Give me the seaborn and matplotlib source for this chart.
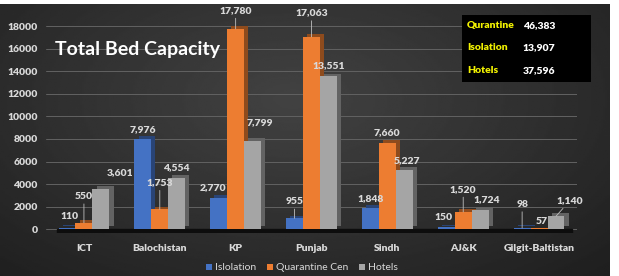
import numpy as np
import pandas as pd
import matplotlib
matplotlib.use("Agg")
import matplotlib.pyplot as plt
import matplotlib.patheffects as pe
from matplotlib.patches import Patch
import seaborn as sns

# ---------------- data ----------------
regions = ["ICT", "Balochistan", "KP", "Punjab", "Sindh", "AJ&K", "Gilgit-Baltistan"]
series = ["Islolation", "Quarantine Cen", "Hotels"]
isolation = [110, 7976, 2770, 955, 1848, 150, 98]
quarantine = [550, 1753, 17780, 17063, 7660, 1520, 57]
hotels = [3601, 4554, 7799, 13551, 5227, 1724, 1140]
yticks = [0, 2000, 4000, 6000, 8000, 10000, 12000, 14000, 16000, 18000]
summary_labels = ["Qurantine", "Isolation", "Hotels"]
summary_values = ["46,383", "13,907", "37,596"]
title = "Total Bed Capacity"

colors = ["#4472C4", "#ED7D31", "#A5A5A5"]
values = [isolation, quarantine, hotels]

# label offsets (points) and whether a leader line is drawn
label_off = [
    [(2, 5), (0, 4), (-4, 4), (0, 9), (0, 4), (-2, 4), (0, 14)],
    [(0, 16), (0, 16), (0, 10), (0, 14), (0, 4), (0, 13), (2, 2)],
    [(14, 8), (0, 4), (5, 10), (0, 5), (2, 4), (5, 4), (10, 8)],
]
leader = [
    [False, False, False, True, False, False, True],
    [True, True, True, True, False, True, False],
    [False, False, False, False, False, False, True],
]

df = pd.DataFrame({
    "region": np.repeat(regions, len(series)),
    "series": series * len(regions),
    "value": np.ravel(np.column_stack(values)),
})

sns.set_theme(style="white")
plt.rcParams["font.family"] = ["Lato", "DejaVu Sans"]
BOLD = "heavy"

W, H = 619, 276
fig = plt.figure(figsize=(W / 100, H / 100), dpi=100, facecolor="white")

# background gradient panel
bg = fig.add_axes([0, 0, 610 / W, 272 / H], zorder=0)
yy, xx = np.mgrid[0:1:200j, 0:1:300j]
r = np.sqrt(((xx - 0.48) / 0.75) ** 2 + ((yy - 0.35) / 0.9) ** 2)
grad = np.clip(0.26 - 0.14 * r, 0.11, 0.26)
bg.imshow(grad, cmap="gray", vmin=0, vmax=1, aspect="auto", extent=[0, 1, 0, 1], origin="upper")
bg.set_axis_off()

ax = fig.add_axes([46 / W, (H - 233) / H, 531 / W, 228 / H], zorder=1)
ax.patch.set_alpha(0)

sns.barplot(data=df, x="region", y="value", hue="series", palette=colors,
            width=0.67, ax=ax, legend=False, saturation=1, zorder=3)

ax.set_ylim(-350, 19900)
ax.set_xlim(-0.5, 6.5)
ax.axhspan(-350, 0, xmin=0.02, xmax=0.99, color="#0d0d0d", zorder=2)
ax.set_yticks(yticks)
ax.set_yticklabels([str(t) for t in yticks], fontweight=BOLD)
ax.set_xticks(range(len(regions)))
ax.set_xticklabels(regions, fontweight=BOLD)
for t in yticks:
    ax.axhline(t, color="#626262", lw=0.7, zorder=1)
ax.tick_params(axis="both", length=0, colors="#d9d9d9", labelsize=7.5)
ax.tick_params(axis="x", pad=8)
ax.tick_params(axis="y", pad=6)
ax.set_xlabel("")
ax.set_ylabel("")
for s in ax.spines.values():
    s.set_visible(False)

for si, cont in enumerate(ax.containers):
    for bi, bar in enumerate(cont):
        bar.set_path_effects([pe.SimplePatchShadow(offset=(3, 2), rho=0.6, alpha=1), pe.Normal()])
        bar.set_edgecolor("none")
        v = values[si][bi]
        cx = bar.get_x() + bar.get_width() / 2
        dx, dy = label_off[si][bi]
        ap = dict(arrowstyle="-", color="#bfbfbf", lw=0.6, shrinkA=0, shrinkB=0) if leader[si][bi] else None
        ax.annotate(f"{v:,}", xy=(cx, v), xytext=(dx, dy), textcoords="offset points",
                    ha="center", va="bottom", color="#d9d9d9", fontsize=7.5,
                    fontweight=BOLD, arrowprops=ap, zorder=5)

# title
fig.text(55 / W, (H - 50) / H, title, color="white", fontsize=14, fontweight="bold",
         ha="left", va="center", zorder=5)

# summary box
box = fig.add_axes([462 / W, (H - 82) / H, 129 / W, 67 / H], zorder=4)
box.set_facecolor("black")
box.set_xticks([])
box.set_yticks([])
for s in box.spines.values():
    s.set_visible(False)
for i, (lab, val) in enumerate(zip(summary_labels, summary_values)):
    y = 1 - (i + 0.5) / 3 + 0.01
    box.text(0.04, y, lab, color="#f2f200", fontsize=7.5, fontweight=BOLD, va="center", ha="left",
             transform=box.transAxes)
    box.text(0.47, y, val, color="white", fontsize=7.5, fontweight=BOLD, va="center", ha="left",
             transform=box.transAxes)

# legend
handles = [Patch(facecolor=c, edgecolor="none") for c in colors]
leg = fig.legend(handles, series, loc="center", bbox_to_anchor=(302 / W, (H - 268) / H),
                 ncol=3, frameon=False, fontsize=7.5, handlelength=0.6, handleheight=0.6,
                 handletextpad=0.3, columnspacing=1.0)
for t in leg.get_texts():
    t.set_color("#d9d9d9")

fig.savefig("out.png", dpi=100, facecolor="white")
